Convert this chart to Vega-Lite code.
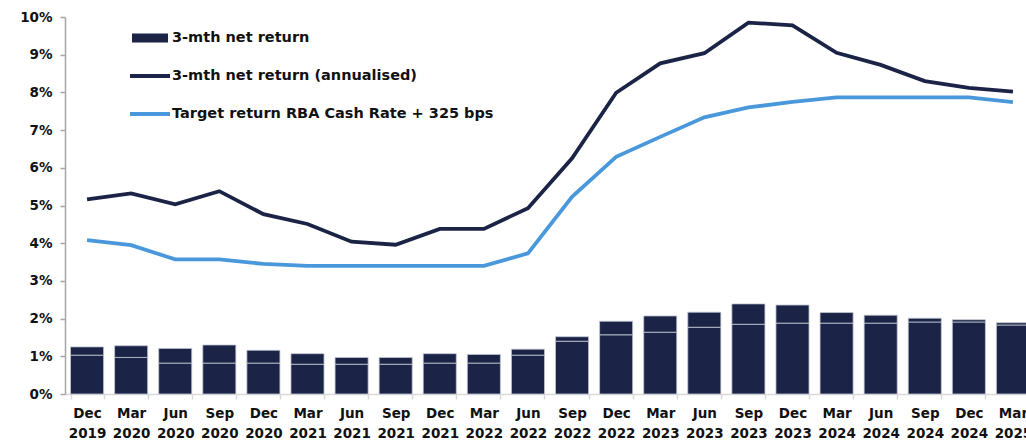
{
  "$schema": "https://vega.github.io/schema/vega-lite/v6.json",
  "width": 961,
  "height": 377,
  "autosize": {"type": "none"},
  "padding": {"left": 65, "top": 17, "right": 0, "bottom": 49},
  "background": "white",
  "config": {
    "view": {"stroke": null},
    "font": "DejaVu Sans",
    "axis": {"grid": false, "labelFont": "DejaVu Sans", "labelFontWeight": "bold", "labelFontSize": 13.5, "labelColor": "#111111", "title": null},
    "axisY": {
      "values": [0, 1, 2, 3, 4, 5, 6, 7, 8, 9, 10],
      "labelExpr": "datum.value + '%'",
      "labelFontSize": 13.5,
      "labelOverlap": false,
      "domainColor": "#a6a6a6",
      "domainWidth": 1.5,
      "tickColor": "#a6a6a6",
      "tickWidth": 1.5,
      "tickSize": 5,
      "labelPadding": 8
    }
  },
  "data": {
    "values": [
      {"q": "Dec 2019", "b": 1.03, "t": 1.25, "ann": 5.16, "tgt": 4.08},
      {"q": "Mar 2020", "b": 0.97, "t": 1.28, "ann": 5.32, "tgt": 3.95},
      {"q": "Jun 2020", "b": 0.82, "t": 1.21, "ann": 5.03, "tgt": 3.57},
      {"q": "Sep 2020", "b": 0.82, "t": 1.30, "ann": 5.38, "tgt": 3.57},
      {"q": "Dec 2020", "b": 0.82, "t": 1.16, "ann": 4.77, "tgt": 3.45},
      {"q": "Mar 2021", "b": 0.79, "t": 1.07, "ann": 4.51, "tgt": 3.40},
      {"q": "Jun 2021", "b": 0.79, "t": 0.97, "ann": 4.04, "tgt": 3.40},
      {"q": "Sep 2021", "b": 0.79, "t": 0.97, "ann": 3.96, "tgt": 3.40},
      {"q": "Dec 2021", "b": 0.82, "t": 1.07, "ann": 4.38, "tgt": 3.40},
      {"q": "Mar 2022", "b": 0.82, "t": 1.05, "ann": 4.38, "tgt": 3.40},
      {"q": "Jun 2022", "b": 1.03, "t": 1.19, "ann": 4.93, "tgt": 3.73},
      {"q": "Sep 2022", "b": 1.40, "t": 1.52, "ann": 6.25, "tgt": 5.23},
      {"q": "Dec 2022", "b": 1.57, "t": 1.93, "ann": 7.99, "tgt": 6.29},
      {"q": "Mar 2023", "b": 1.64, "t": 2.07, "ann": 8.77, "tgt": 6.82},
      {"q": "Jun 2023", "b": 1.77, "t": 2.17, "ann": 9.04, "tgt": 7.34},
      {"q": "Sep 2023", "b": 1.85, "t": 2.39, "ann": 9.85, "tgt": 7.60},
      {"q": "Dec 2023", "b": 1.88, "t": 2.36, "ann": 9.78, "tgt": 7.75},
      {"q": "Mar 2024", "b": 1.88, "t": 2.16, "ann": 9.05, "tgt": 7.87},
      {"q": "Jun 2024", "b": 1.88, "t": 2.09, "ann": 8.73, "tgt": 7.87},
      {"q": "Sep 2024", "b": 1.91, "t": 2.01, "ann": 8.30, "tgt": 7.87},
      {"q": "Dec 2024", "b": 1.91, "t": 1.97, "ann": 8.12, "tgt": 7.87},
      {"q": "Mar 2025", "b": 1.83, "t": 1.89, "ann": 8.02, "tgt": 7.74}
    ]
  },
  "encoding": {
    "x": {
      "field": "q",
      "type": "nominal",
      "sort": null,
      "scale": {"type": "band", "range": [0, 970], "paddingInner": 0.25, "paddingOuter": 0.125},
      "axis": {
        "labelAngle": 0,
        "labelExpr": "isString(datum.value) ? split(datum.value, ' ') : ''",
        "labelLineHeight": 20,
        "labelPadding": 7,
        "labelBaseline": "top",
        "tickBand": "extent",
        "domainColor": "#d9d9d9",
        "domainWidth": 1.5,
        "tickColor": "#d9d9d9",
        "tickWidth": 1.5,
        "tickSize": 5
      }
    }
  },
  "layer": [
    {
      "mark": {"type": "bar", "stroke": "#c3c7d3", "strokeWidth": 0.8},
      "encoding": {
        "y": {"field": "b", "type": "quantitative", "scale": {"domain": [0, 10]}},
        "color": {"datum": "bar", "type": "nominal"}
      }
    },
    {
      "mark": {"type": "bar", "stroke": "#c3c7d3", "strokeWidth": 0.8},
      "encoding": {
        "y": {"field": "b", "type": "quantitative"},
        "y2": {"field": "t"},
        "color": {"datum": "bar", "type": "nominal"}
      }
    },
    {
      "transform": [{"fold": ["ann", "tgt"], "as": ["series", "value"]}],
      "mark": {"type": "line", "strokeWidth": 3.8},
      "encoding": {
        "y": {"field": "value", "type": "quantitative"},
        "color": {
          "field": "series",
          "type": "nominal",
          "scale": {"domain": ["bar", "ann", "tgt"], "range": ["#1b2446", "#1b2446", "#4a98dc"]},
          "legend": {
            "orient": "none",
            "legendX": 65,
            "legendY": 1,
            "title": null,
            "padding": 0,
            "symbolSize": 1600,
            "rowPadding": 11,
            "labelOffset": 2,
            "labelFont": "DejaVu Sans",
            "labelFontWeight": "bold",
            "labelFontSize": 14.5,
            "labelColor": "#111111",
            "labelLimit": 400,
            "labelExpr": "datum.value === 'bar' ? '3-mth net return' : datum.value === 'ann' ? '3-mth net return (annualised)' : 'Target return RBA Cash Rate + 325 bps'",
            "encode": {
              "symbols": {
                "update": {
                  "shape": {"signal": "datum.value === 'bar' ? 'M-1,-0.25H1V0.25H-1Z' : 'M-1,-0.1H1V0.1H-1Z'"},
                  "size": {"signal": "datum.value === 'bar' ? 1296 : 1600"},
                  "fill": {"signal": "scale('color', datum.value)"},
                  "stroke": {"value": "transparent"},
                  "strokeWidth": {"value": 0},
                  "opacity": {"value": 1},
                  "fillOpacity": {"value": 1}
                }
              }
            }
          }
        }
      }
    }
  ]
}
